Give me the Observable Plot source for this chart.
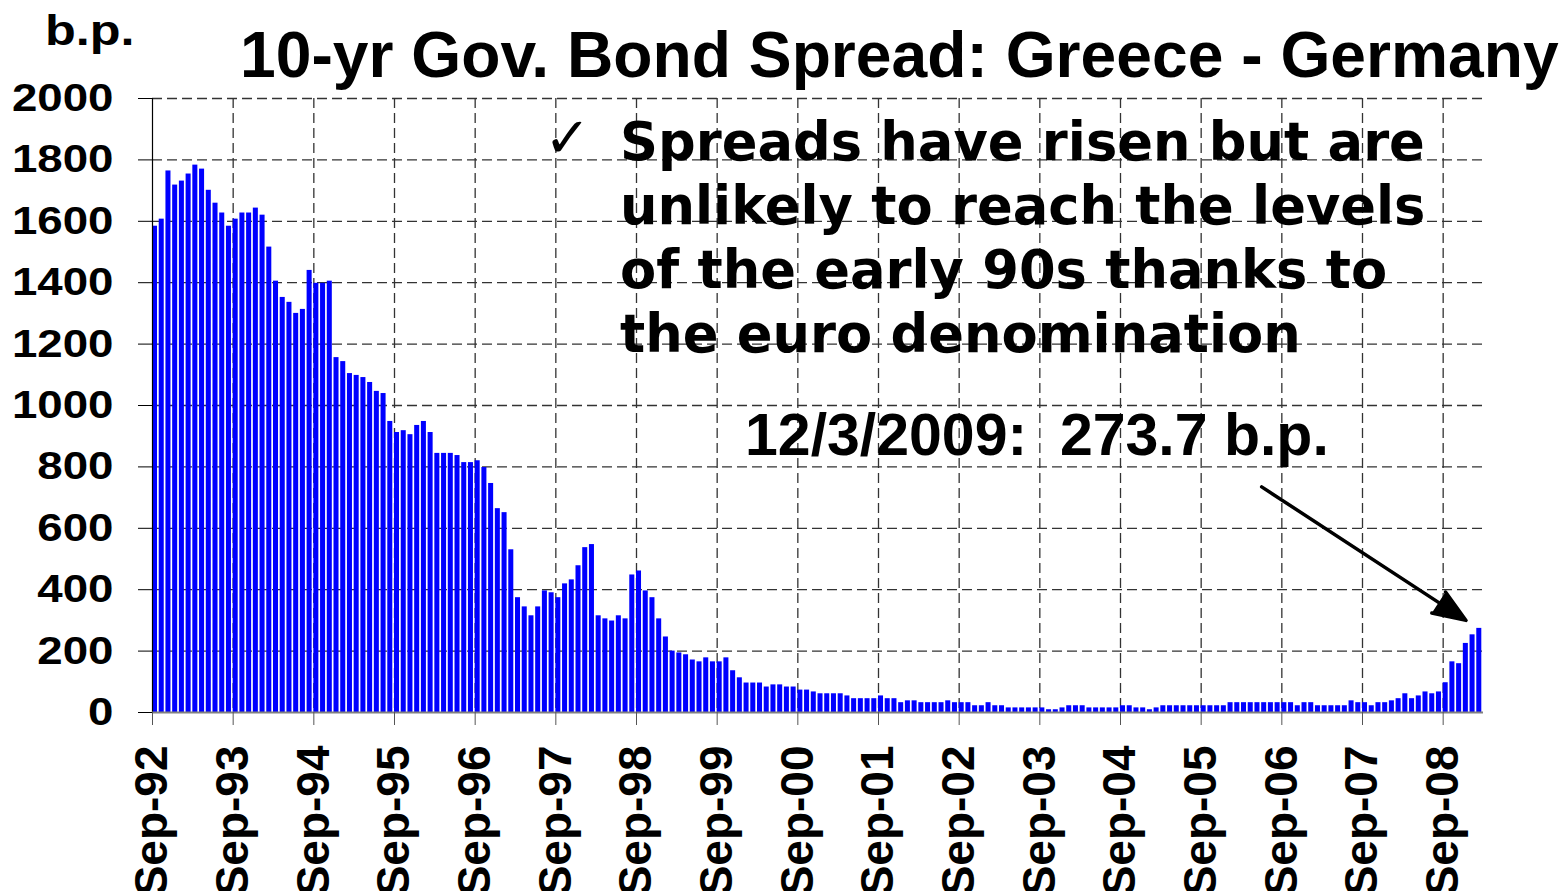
<!DOCTYPE html>
<html><head><meta charset="utf-8">
<script src="https://cdn.jsdelivr.net/npm/d3@7"></script>
<script src="https://cdn.jsdelivr.net/npm/@observablehq/plot@0.6"></script>
<style>html,body{margin:0;padding:0;background:#fff;} #chart{position:relative;width:1563px;height:891px;overflow:hidden}</style>
</head><body><div id="chart"></div>
<script>
// Monthly 10-yr government bond spread, Greece - Germany (b.p.), Sep-92 onward
const spread = [
1584,1607,1764,1718,1731,1754,1783,1770,1701,1659,1627,1584,
1607,1627,1627,1643,1620,1516,1405,1352,1336,1300,1313,1440,
1398,1398,1405,1156,1143,1104,1098,1091,1075,1046,1039,948,
912,918,905,935,948,912,844,844,844,837,814,814,
820,798,746,664,651,530,374,344,315,344,396,390,
374,419,432,478,537,547,315,305,298,315,305,448,
461,396,374,305,246,200,194,188,171,165,178,165,
165,178,136,113,96,96,96,83,90,90,83,83,
73,73,67,61,61,61,61,54,45,45,45,45,
54,45,45,32,38,38,32,32,32,32,38,32,
32,32,22,22,32,22,22,15,15,15,15,15,
15,9,9,15,22,22,22,15,15,15,15,15,
22,22,15,15,9,15,22,22,22,22,22,22,
22,22,22,22,32,32,32,32,32,32,32,32,
32,32,22,32,32,22,22,22,22,22,38,32,
32,22,32,32,38,45,61,45,54,67,61,67,
97,165,159,225,253,274
];
const months = d3.utcMonth.range(new Date(Date.UTC(1992, 8, 1)), new Date(Date.UTC(2009, 2, 1)));
const tickLabels = ["Sep-92","Sep-93","Sep-94","Sep-95","Sep-96","Sep-97","Sep-98","Sep-99","Sep-00","Sep-01","Sep-02","Sep-03","Sep-04","Sep-05","Sep-06","Sep-07","Sep-08"];
const yTicks = [0,200,400,600,800,1000,1200,1400,1600,1800,2000];
const titleText = "10-yr Gov. Bond Spread: Greece - Germany";
const unitText = "b.p.";
const noteLines = ["Spreads have risen but are","unlikely to reach the levels","of the early 90s thanks to","the euro denomination"];
const dateNote = "12/3/2009:  273.7 b.p.";
const arrowNote = [{x1: 165, y1: 735, x2: 195.4, y2: 300}];

const tickIndex = tickLabels.map((_, k) => k * 12);
const data = spread.map((v, i) => ({i, month: months[i], v}));
const fontSans = "'Liberation Sans', Arial, Helvetica, sans-serif";
const grid = {stroke: "#333", strokeWidth: 1.3, strokeDasharray: "10,5"};

const chart = Plot.plot({
  width: 1563, height: 891,
  marginLeft: 152, marginRight: 80, marginTop: 98, marginBottom: 179,
  style: {fontFamily: fontSans, background: "white", color: "black", overflow: "visible"},
  x: {type: "linear", domain: [0, spread.length], axis: null},
  y: {domain: [0, 2000], axis: null},
  marks: [
    Plot.ruleY(yTicks.filter(d => d > 0), grid),
    Plot.ruleX(tickIndex.filter(d => d > 0), grid),
    Plot.rectY(data, {x1: "i", x2: d => d.i + 1, y1: 0, y2: "v", fill: "#0000FF", insetRight: 1.7}),
    Plot.ruleX([0], {stroke: "black", strokeWidth: 1.2}),
    Plot.ruleY([0], {stroke: "#808080", strokeWidth: 2}),
    Plot.axisY({ticks: yTicks, tickSize: 14, tickPadding: 25, fontSize: 39, fontWeight: "bold", tickFormat: d => String(d), stroke: "black"}),
    Plot.axisX({ticks: tickIndex, tickFormat: d => tickLabels[Math.round(d / 12)], tickSize: 13, tickPadding: 20, tickRotate: -90, fontSize: 46, fontWeight: "bold", stroke: "#555"}),
    Plot.arrow(arrowNote, {x1: "x1", y1: "y1", x2: "x2", y2: "y2", stroke: "black", fill: "black", strokeWidth: 3.5, headLength: 15, headAngle: 42})
  ]
});

document.getElementById("chart").appendChild(chart);
const svg = d3.select(chart);
svg.selectAll('g[aria-label="y-axis tick label"] text').each(function() {
  const t = d3.select(this);
  t.attr("transform", (t.attr("transform") || "") + " scale(1.17,1)");
});
svg.selectAll('g[aria-label$="tick label"] text').attr("font-weight", "bold");

const notes = svg.append("g").attr("text-anchor", "start").attr("fill", "black");
notes.append("text").attr("transform", "translate(45,45) scale(1.2,1)")
  .attr("font-family", fontSans).attr("font-weight", "bold").attr("font-size", 42).text(unitText);
notes.append("text").attr("x", 240).attr("y", 77)
  .attr("font-family", fontSans).attr("font-weight", "bold").attr("font-size", 64.2).text(titleText);
notes.append("text").attr("x", 544).attr("y", 157)
  .attr("font-family", "'DejaVu Sans', sans-serif").attr("font-size", 56).text("\u2713");
noteLines.forEach((line, k) => {
  notes.append("text").attr("x", 620).attr("y", 160 + k * 64)
    .attr("font-family", "'DejaVu Sans', Verdana, sans-serif").attr("font-weight", "bold").attr("font-size", 52.7).text(line);
});
notes.append("text").attr("x", 745).attr("y", 455).style("white-space", "pre")
  .attr("font-family", fontSans).attr("font-weight", "bold").attr("font-size", 59).text(dateNote);
</script>
</body></html>
